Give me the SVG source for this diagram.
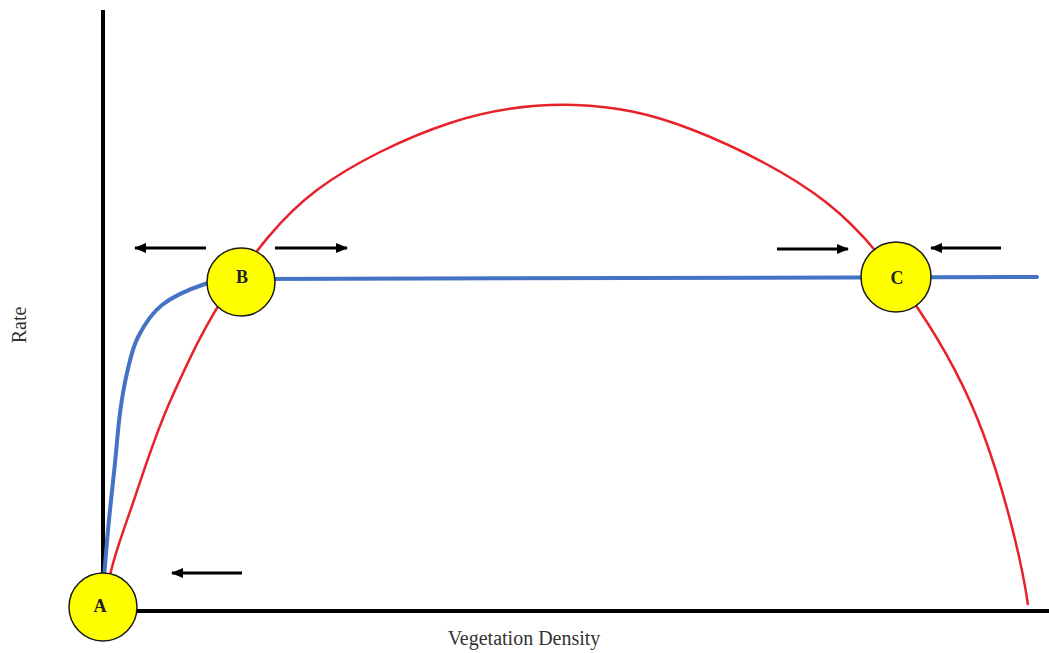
<svg xmlns="http://www.w3.org/2000/svg" width="1049" height="653" viewBox="0 0 1049 653">
  <style>
    .axis { stroke: #000; stroke-width: 4; fill: none; }
    .red { stroke: #e8222a; stroke-width: 2.5; fill: none; }
    .blue { stroke: #4472c4; stroke-width: 4; fill: none; stroke-linecap: round; }
    .arrow { stroke: #000; stroke-width: 3; fill: none; marker-end: url(#ah); }
    .node circle { fill: #ffff00; stroke: #1a1a1a; stroke-width: 1.5; }
    .node text { font-family: "Liberation Serif", "Times New Roman", serif; font-weight: bold; font-size: 18px; text-anchor: middle; fill: #222; }
    .label { font-family: "Liberation Serif", "Times New Roman", serif; font-size: 20px; fill: #333; }
  </style>
  <defs>
    <marker id="ah" viewBox="0 0 12 10" refX="11" refY="5" markerWidth="12" markerHeight="10" markerUnits="userSpaceOnUse" orient="auto">
      <path d="M0,0 L12,5 L0,10 Z" fill="#000"/>
    </marker>
  </defs>
  <rect width="1049" height="653" fill="#fff"/>

  <g id="axes">
    <line class="axis" x1="103" y1="10" x2="103" y2="600"/>
    <line class="axis" x1="130" y1="611" x2="1049" y2="611"/>
    <text class="label" transform="translate(26,325) rotate(-90)" text-anchor="middle">Rate</text>
    <text class="label" x="524" y="645" text-anchor="middle">Vegetation Density</text>
  </g>

  <g id="connectors">
    <path id="red-curve" class="red" d="M107,590 C112,560 124.17,529.17 135,497 C145.83,464.83 156.17,431.83 172,397 C187.83,362.17 205.83,322.5 230,288 C254.17,253.5 280.33,217.5 317,190 C353.67,162.5 407,137.17 450,123 C493,108.83 534.5,103.83 575,105 C615.5,106.17 651,113.67 693,130 C735,146.33 789.67,173.5 827,203 C864.33,232.5 891,268.67 917,307 C943,345.33 964.5,383.33 983,433 C1001.5,482.67 1021,555 1028,605"/>
    <path id="blue-curve" class="blue" d="M103,590 C104.7,570 106,551.2 108,530 C110,508.8 113,482.5 115,463 C117,443.5 118,428 120,413 C122,398 124,385.7 127,373 C130,360.3 132.2,348.3 138,337 C143.8,325.7 150.8,313.8 162,305 C173.2,296.2 192,288.3 205,284 C218,279.7 228.3,280.7 240,279 L1037,277"/>
    <line class="arrow" x1="206" y1="248" x2="135" y2="248"/>
    <line class="arrow" x1="275" y1="248" x2="347" y2="248"/>
    <line class="arrow" x1="777" y1="249" x2="848" y2="249"/>
    <line class="arrow" x1="1001" y1="248" x2="931" y2="248"/>
    <line class="arrow" x1="242" y1="573" x2="172" y2="573"/>
  </g>

  <g id="node-A" class="node">
    <circle cx="103" cy="607" r="34"/>
    <text x="100" y="612">A</text>
  </g>
  <g id="node-B" class="node">
    <circle cx="241" cy="282" r="34"/>
    <text x="242" y="283">B</text>
  </g>
  <g id="node-C" class="node">
    <circle cx="896" cy="277" r="35"/>
    <text x="897" y="284">C</text>
  </g>
</svg>
